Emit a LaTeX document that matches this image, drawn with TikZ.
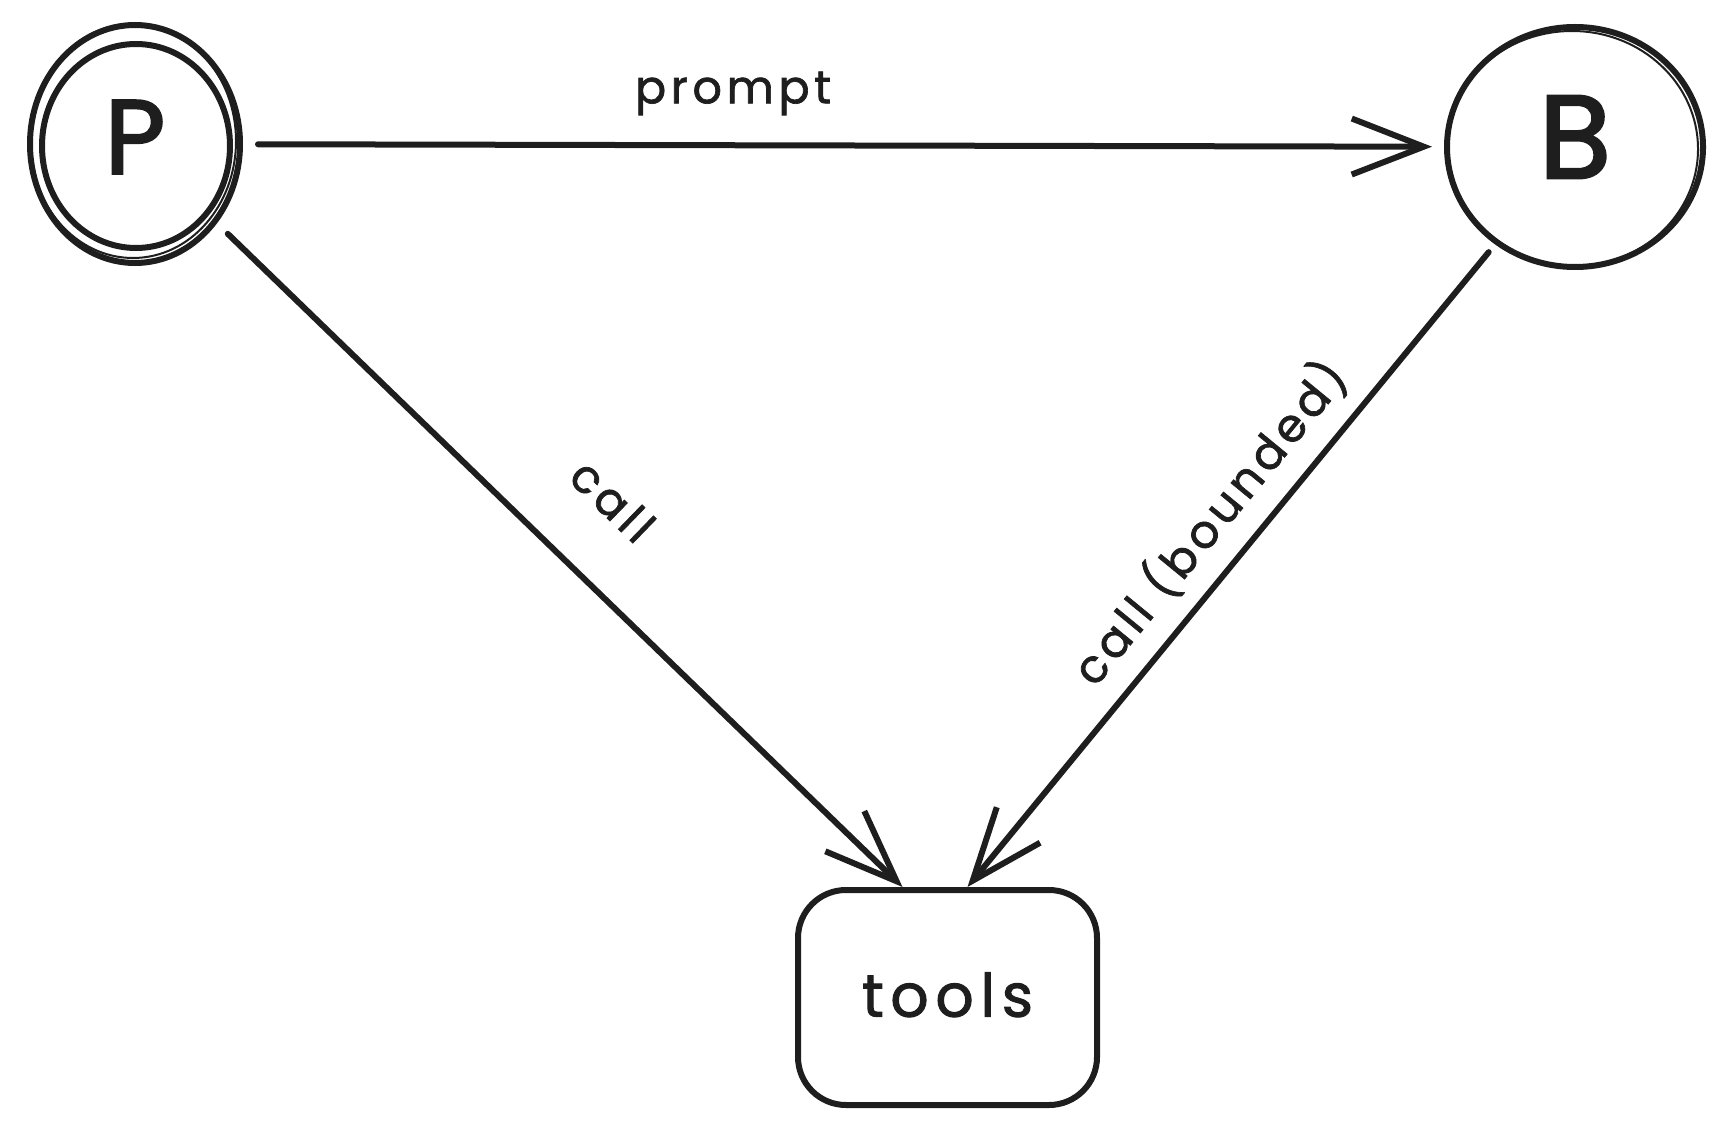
\documentclass[tikz,border=0pt]{standalone}
\usepackage{fontspec}
\setmainfont[FakeBold=1.2]{Poppins}
\newfontfamily\lblfont[LetterSpace=10,FakeBold=1.5]{Poppins}
\newfontfamily\boxfont[LetterSpace=11,FakeBold=1.6]{Poppins}
\newfontfamily\stfont[FakeBold=2.2]{Poppins}
\usetikzlibrary{arrows.meta,shapes.geometric,calc}
\definecolor{inkc}{HTML}{1E1E1E}
\begin{document}
\begin{tikzpicture}[x=1pt,y=-1pt,
  inkline/.style={draw=inkc,line width=6pt},
  sketchline/.style={draw=inkc,line width=2pt},
  statenode/.style={ellipse,inkline,inner sep=0pt,text=inkc},
  boxnode/.style={rectangle,rounded corners=48pt,inkline,inner sep=0pt,minimum width=299pt,minimum height=215pt,text=inkc,font=\boxfont\fontsize{60}{68}\selectfont},
  conn/.style={draw=inkc,line width=6pt,line cap=round,-{Straight Barb[length=72pt,width=56pt,line width=6pt]}},
  lbl/.style={text=inkc,inner sep=0pt,font=\lblfont\fontsize{46}{54}\selectfont},
]
\useasboundingbox (0,0) rectangle (1731,1134);

% nodes
\node[statenode,minimum width=210pt,minimum height=238pt,text depth=14pt,font=\stfont\fontsize{105}{120}\selectfont] (P) at (135,144) {P};
\node[statenode,minimum width=256pt,minimum height=240pt,text depth=20pt,font=\stfont\fontsize{118}{130}\selectfont] (B) at (1575,147) {B};
\node[boxnode,text depth=6pt] (tools) at (947.5,997.5) {tools};

% inner ring of P and sketchy second strokes
\draw[inkline] ($(P.center)+(1,2)$) ellipse [x radius=94pt, y radius=102pt];
\draw[sketchline] ($(P.center)+(-2,-3)$) ellipse [x radius=103pt, y radius=117pt];
\draw[sketchline] ($(B.center)+(-3,2)$) ellipse [x radius=126pt, y radius=118pt];

% connectors
\draw[conn, shorten <=15pt, shorten >=12pt] (P) -- (B)
  node[lbl, pos=0.408, above=27pt] {prompt};
\draw[conn, shorten <=15pt] (P) -- ($(tools.north)+(-45,0)$)
  node[lbl, sloped, pos=0.5, above=56pt] {call};
\draw[conn, shorten <=10pt] (B) -- ($(tools.north)+(20,0)$)
  node[lbl, sloped, pos=0.477, above=16pt] {call (bounded)};
\end{tikzpicture}
\end{document}
